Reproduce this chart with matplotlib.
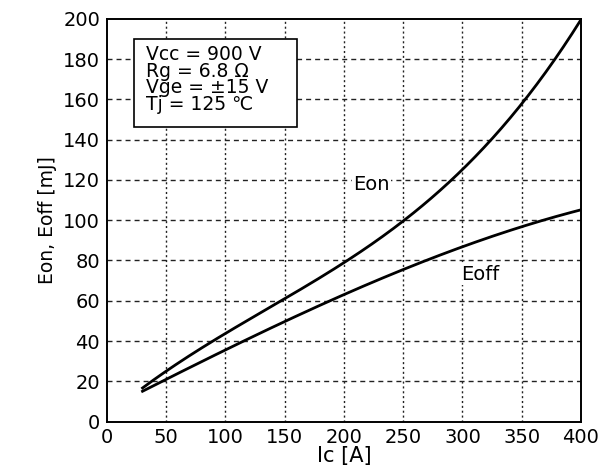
import matplotlib.pyplot as plt
from matplotlib.patches import Rectangle
import numpy as np

plt.rcParams['font.family'] = ['DejaVu Sans']

# Switching energy vs collector current
ic = [30, 50, 100, 150, 200, 250, 300, 350, 400]
eon = [17, 25, 43, 61, 79.5, 100, 125, 157, 200]
eoff = [15, 21, 35.5, 50, 63, 75, 87, 97, 105]

xticks = [0, 50, 100, 150, 200, 250, 300, 350, 400]
yticks = [0, 20, 40, 60, 80, 100, 120, 140, 160, 180, 200]

conditions = "Vcc = 900 V\nRg = 6.8 \u03a9\nVge = \u00b115 V\nTj = 125 \u2103"

# smooth the read-off points for drawing
xs = np.linspace(ic[0], ic[-1], 200)
eon_fit = np.polyval(np.polyfit(ic, eon, 3), xs)
eoff_fit = np.polyval(np.polyfit(ic, eoff, 3), xs)

fig = plt.figure(figsize=(6.03, 4.71), dpi=100)
ax = fig.add_axes([0.1774, 0.105, 0.786, 0.855])

ax.plot(xs, eon_fit, color='black', linewidth=2)
ax.plot(xs, eoff_fit, color='black', linewidth=2)

ax.set_xlim(0, 400)
ax.set_ylim(0, 200)
ax.set_xticks(xticks)
ax.set_yticks(yticks)
ax.tick_params(labelsize=14, length=0, pad=5)

for x in xticks[1:-1]:
    ax.axvline(x, color='#222222', linestyle=(0, (1.5, 2)), linewidth=1, zorder=0)
for y in yticks[1:-1]:
    ax.axhline(y, color='#222222', linestyle=(0, (3.6, 2.9)), linewidth=1, zorder=0)

for s in ax.spines.values():
    s.set_linewidth(1.4)

ax.set_xlabel("Ic [A]", fontsize=15, labelpad=-1)
ax.set_ylabel("Eon, Eoff [mJ]", fontsize=13.5, labelpad=4)

# operating-condition box
ax.add_patch(Rectangle((0.057, 0.732), 0.344, 0.218, transform=ax.transAxes,
                       facecolor='white', edgecolor='black', linewidth=1.2, zorder=3))
ax.text(0.082, 0.849, conditions, transform=ax.transAxes, fontsize=13.5,
        va='center', ha='left', linespacing=0.84, zorder=4)

ax.text(208, 117.5, "Eon", fontsize=14, va='center', ha='left',
        bbox=dict(facecolor='white', edgecolor='none', pad=1))
ax.text(299, 73, "Eoff", fontsize=14, va='center', ha='left',
        bbox=dict(facecolor='white', edgecolor='none', pad=1))

fig.savefig("out.png", dpi=100)
